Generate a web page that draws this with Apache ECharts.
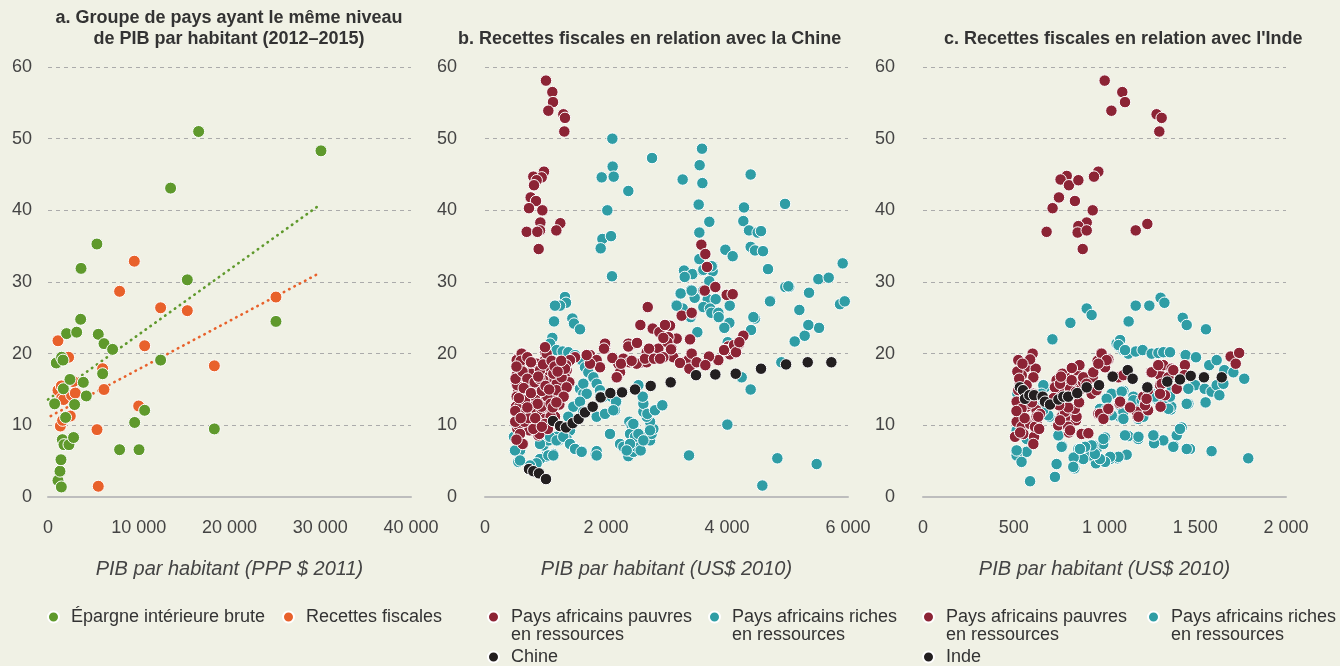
<!DOCTYPE html>
<html><head><meta charset="utf-8">
<script src="https://cdn.jsdelivr.net/npm/echarts@6/dist/echarts.min.js"></script>
<style>html,body{margin:0;padding:0;background:#f0f1e5}#c{width:1340px;height:666px}</style>
</head><body><div id="c"></div>
<script>
// ---------- Panel a ----------
const titleA = 'a. Groupe de pays ayant le même niveau\nde PIB par habitant (2012–2015)';
const titleB = 'b. Recettes fiscales en relation avec la Chine';
const titleC = "c. Recettes fiscales en relation avec l'Inde";
const axisNameA = 'PIB par habitant (PPP $ 2011)';
const axisNameBC = 'PIB par habitant (US$ 2010)';
const nameSavings = 'Épargne intérieure brute';
const nameTax = 'Recettes fiscales';
const namePoor = 'Pays africains pauvres\nen ressources';
const nameRich = 'Pays africains riches\nen ressources';
const nameChina = 'Chine';
const nameIndia = 'Inde';
const yTicks = [0, 10, 20, 30, 40, 50, 60];
const xTicksA = [0, 10000, 20000, 30000, 40000];
const xTicksB = [0, 2000, 4000, 6000];
const xTicksC = [0, 500, 1000, 1500, 2000];

const savingsA = [[730,13.0],[910,18.7],[1100,2.3],[1320,3.6],[1430,5.2],[1470,1.4],[1500,19.5],[1650,19.1],[1580,8.0],[1690,15.1],[1760,7.3],[1940,11.1],[2050,22.8],[2310,7.3],[2420,16.4],[2820,8.3],[2930,12.9],[3160,23.0],[3600,24.8],[3640,31.9],[3890,16.0],[4220,14.1],[5390,35.3],[5540,22.7],[6020,17.2],[6170,21.4],[7120,20.6],[7890,6.6],[9550,10.4],[10030,6.6],[10650,12.1],[12410,19.1],[13510,43.1],[15350,30.3],[16600,51.0],[18330,9.5],[25120,24.5],[30080,48.3]];
const taxA = [[1100,21.8],[1100,14.9],[1360,9.9],[1470,15.5],[1500,13.8],[1610,10.7],[1720,13.6],[2270,19.5],[2460,11.3],[2600,14.2],[2790,16.1],[3010,14.5],[5400,9.4],[5540,1.5],[6020,17.9],[6170,15.0],[7890,28.7],[9510,32.9],[9990,12.7],[10650,21.1],[12410,26.4],[15350,26.0],[18330,18.3],[25120,27.9]];
const trendSavingsA = [[0,13.6],[30000,40.8]];
const trendTaxA = [[300,11.3],[30000,31.3]];

// ---------- Panel b ----------
const poorB = [[1008,58.1],[1113,56.5],[1124,55.1],[1047,53.9],[1295,53.4],[1322,52.9],[1311,51.0],[975,45.4],[799,44.7],[937,44.6],[854,44.2],[810,43.5],[755,41.8],[843,41.3],[727,40.3],[948,40.0],[915,38.3],[1245,38.2],[689,37.0],[909,37.2],[865,37.0],[1179,37.2],[887,34.6],
[3576,35.2],[3642,33.9],[3670,32.1],[3632,28.8],[3813,29.3],[3995,28.2],[4094,28.3],[3251,25.3],[3422,25.6],[3058,23.9],[3168,22.1],[3384,21.9],[4270,22.5],[4199,21.4],[4105,20.9],[4022,21.0],[4138,20.1],[4050,19.9],[3984,20.5],[3405,20.0],[3477,18.8],[3653,18.6],[3857,19.1],[3703,19.6],[3234,18.8],[3388,17.9],[3113,19.5],
[1736,19.8],[1846,19.1],[1901,18.1],[1984,20.7],[1984,21.4],[2204,18.6],[2287,19.3],[2232,17.4],[2188,16.7],[2369,21.4],[2507,21.4],[2590,18.8],[2673,18.8],[2673,20.2],[2783,19.3],[2865,20.7],[2948,19.5],[3031,22.3],[3086,20.7],[3251,18.8],[3361,19.1],[2507,18.6],[2386,18.8],[1736,18.6],[1681,19.8],[1488,19.5],[1405,19.1],[1350,17.7],
[1967,20.7],[2105,19.4],[2177,16.7],[2248,18.6],[2369,21.0],[2424,19.0],[2513,21.5],[2568,24.0],[2690,26.5],[2645,19.3],[2711,20.7],[2772,23.5],[2794,19.3],[2893,19.3],[2882,23.0],[2975,24.0],[3014,21.6],[2948,22.2],[3075,20.6],[3223,18.7],[3416,25.7],[3389,22.0],[3416,20.0],[3378,17.9],[3499,18.8],[3807,29.3],[3642,18.4],[3951,20.5],[4116,21.2],[4149,20.2],[4204,21.6],[1030,19.2],[992,20.2],[623,20.0],[534,19.3],
[524,19.1],[606,20.0],[551,18.1],[524,17.0],[579,16.3],[513,15.8],[551,14.9],[606,14.4],[524,14.0],[568,13.3],[513,12.6],[606,12.1],[535,11.4],[634,11.9],[551,10.5],[634,10.7],[535,9.5],[606,9.3],[551,8.4],[634,7.4],[689,17.2],[716,15.8],[678,14.4],[744,13.0],[656,12.1],[771,10.7],[733,9.3],[854,9.1],[882,8.6],[799,18.1],[865,18.6],[937,17.7],[992,19.1],[1019,20.0],[992,20.9],[1030,18.1],[1047,16.7],[964,16.3],[909,15.3],[882,14.4],[964,13.7],[826,14.0],[799,12.6],[854,11.6],[937,12.1],[1019,12.6],[992,10.9],[1074,13.3],[1157,14.0],[1240,14.7],[1212,12.8],[1267,15.8],[1322,16.7],[1339,18.4],[1394,16.0],[1184,15.8],[1129,17.2],[1102,11.6],[1074,10.5],
[579,18.1],[551,16.7],[534,15.6],[568,12.6],[534,11.2],[551,10.0],[579,8.8],[623,7.4],[661,11.7],[650,10.5],[744,15.8],[771,17.2],[854,18.6],[909,17.7],[898,8.8],[854,10.7],[937,12.6],[1030,14.0],[1085,13.0],[1184,14.9],[1229,12.9],[1267,16.7],[1322,17.9],[1350,15.3],[1157,11.2],[1085,11.2],[992,10.2],[799,9.5],
[500,12.0],[505,16.5],[500,10.5],[590,19.0],[700,19.5],[760,18.8],[620,17.5],[700,16.5],[660,13.5],[720,11.0],[820,16.0],[870,13.0],[900,16.5],[960,18.5],[1100,19.0],[1150,18.2],[1200,17.5],[1260,19.0],[1300,14.0],
[560,13.8],[520,18.2],[590,11.0],[640,15.2],[700,12.5],[760,14.5],[830,11.0],[880,16.8],[940,14.8],[1000,15.5],[1060,15.0],[1120,12.5],[1180,13.2],[1040,9.5],[940,9.8],[520,8.0]];

const richB = [[2105,50.0],[2761,47.3],[3587,48.6],[2110,46.1],[1929,44.6],[2127,44.7],[3267,44.3],[3548,46.3],[3593,43.8],[4391,45.0],[2369,42.7],[3532,40.8],[2022,40.0],[4959,40.9],[4281,40.4],[3708,38.4],[4270,38.5],[4364,37.2],[3543,36.9],[4507,36.9],[4562,37.1],[1940,36.0],[2083,36.4],[1912,34.7],[4391,34.9],[4463,34.4],[4595,34.3],[3973,34.5],[4094,33.6],[3543,33.2],[3763,32.2],[4678,31.8],[5912,32.6],[3290,31.6],[3427,31.1],[3301,30.7],[3598,31.6],[3763,31.5],[2099,30.8],[5510,30.4],[5681,30.6],
[3609,31.7],[3747,32.2],[3708,30.1],[3405,28.9],[3229,28.4],[3163,26.8],[3267,26.3],[3399,25.1],[3466,27.8],[3609,28.8],[3681,27.6],[3813,27.6],[3609,26.5],[3719,26.3],[3741,25.7],[3857,25.7],[3863,25.1],[4045,26.7],[4039,24.3],[3956,23.6],[4463,24.9],[4397,23.3],[4716,27.4],[4964,29.3],[5030,29.3],[5356,28.5],[5196,26.1],[5356,24.0],[5521,23.6],[5284,22.5],[5119,21.7],[5868,26.9],[5946,27.3],[3510,23.0],[4012,21.6],[4898,18.8],[3168,26.7],[3234,28.4],[3416,28.8],[4436,25.1],[4711,27.3],[5014,29.4],[5344,24.0],
[1322,27.9],[1339,27.1],[1240,26.7],[1157,26.7],[1141,24.5],[1444,24.9],[1471,24.2],[1570,23.4],[1113,22.2],[1074,21.4],[1184,20.5],[1284,20.3],[1377,20.2],[1488,19.8],[1598,19.1],[1653,18.1],[1708,17.4],[1791,16.7],[1846,15.8],[1901,14.9],[1956,14.0],[2094,14.0],[2177,13.3],[2149,12.1],[1989,11.6],[1846,11.2],[2066,8.8],[1570,15.1],[1626,14.4],[1559,13.3],[1460,12.6],[1377,11.2],[1405,9.3],[1350,8.1],[1267,8.6],[1212,7.9],[1129,6.0],[1074,5.8],[992,5.6],[909,5.3],[854,4.7],[744,4.4],[964,7.2],[1047,7.9],[1184,8.4],[1432,7.2],[1515,6.7],[1598,6.4],[1829,6.0],[1846,6.4],[551,6.3],[579,6.5],[551,4.9],[479,8.4],[523,9.8],
[2232,7.4],[2287,7.0],[2369,5.7],[2397,6.5],[2452,6.3],[2507,7.0],[2573,6.5],[2386,10.5],[2424,10.0],[2463,10.1],[2397,8.8],[2480,8.4],[2601,8.4],[2728,7.9],[2755,8.8],[2783,9.5],[2728,10.5],[2673,11.2],[2618,11.9],[2618,13.0],[2607,14.0],[2535,15.6],[2684,11.6],[2810,12.1],[2931,12.8],[2166,13.3],
[3372,5.8],[4006,10.1],[4243,16.7],[4391,15.0],[4584,1.6],[4832,5.4],[5482,4.6],
[1625,15.8],[1681,14.4],[1570,13.3],[1625,11.9],[1901,14.0],[1984,11.6],[2121,12.1],[2452,10.2],[2535,8.8],[2397,7.4],[2342,6.5],[2618,7.9],[2728,9.3],[496,6.5],[579,5.1],[909,7.4],[1047,5.8],[1129,5.8],[1074,8.4],[1184,7.9],[1294,8.4],[1405,7.4],[1488,6.7],[1598,6.3],[1846,5.8]];

const chinaB = [[727,3.9],[799,3.6],[893,3.3],[1008,2.5],[1124,10.6],[1240,9.9],[1339,9.7],[1449,10.3],[1548,10.9],[1653,11.8],[1780,12.6],[1912,13.9],[2072,14.5],[2265,14.6],[2480,15.0],[2739,15.5],[3069,16.0],[3488,17.0],[3807,17.1],[4144,17.2],[4562,17.9],[4976,18.5],[5334,18.8],[5725,18.8]];

// ---------- Panel c ----------
const poorC = [[1001,58.1],[1098,56.5],[1113,55.1],[1038,53.9],[1287,53.4],[1315,52.9],[1302,51.0],[966,45.4],[942,44.7],[792,44.8],[758,44.3],[804,43.5],[856,44.2],[749,41.8],[837,41.3],[714,40.3],[935,40.0],[902,38.3],[1236,38.1],[681,37.0],[856,37.8],[852,36.9],[902,37.2],[1172,37.2],[880,34.6],
[525,19.1],[604,20.0],[566,18.1],[621,17.9],[544,17.0],[608,16.7],[534,15.8],[525,14.9],[562,14.0],[516,13.3],[571,12.6],[525,11.6],[626,12.1],[645,11.6],[516,10.5],[544,9.8],[590,10.2],[626,10.5],[507,8.4],[553,8.8],[612,8.4],[608,7.4],[626,11.2],[571,15.6],[608,14.4],
[768,17.2],[736,16.3],[791,16.0],[816,16.7],[843,17.7],[862,18.4],[837,15.6],[755,14.9],[727,15.3],[810,15.1],[791,14.0],[843,14.7],[872,15.1],[902,16.7],[929,14.4],[773,12.1],[764,11.2],[782,10.5],[745,10.0],[810,10.7],[843,10.7],[874,8.8],[911,8.9],[804,9.0],[837,11.7],[773,13.0],[800,9.8],
[883,16.0],[935,16.7],[962,19.0],[982,20.1],[1021,19.2],[1003,18.1],[966,11.6],[993,11.2],[1021,12.1],[1082,13.1],[1137,12.6],[1181,11.2],[1076,16.7],[1104,17.0],[1214,14.0],[1240,14.9],[1256,17.4],[1287,17.7],[1306,17.0],[1315,18.4],[1324,18.4],[1306,15.6],[1333,14.2],[1309,12.6],[1223,13.0],[1240,12.1],[1370,17.9],[1398,15.1],[1443,18.4],[1440,17.0],[1695,19.6],[1742,20.1],[1723,18.6],[1177,11.9],
[580,13.0],[617,9.8],[635,11.2],[543,12.3],[755,15.8],[819,16.3],[883,16.7],[938,17.4],[984,20.0],[1012,19.1],[966,18.6],[782,11.9],[755,10.7],[846,11.2],[810,9.3],[837,12.3],[975,11.6],[994,10.9],[1021,12.3],[1086,13.3],[1141,12.5],[1187,11.2],[1223,12.8],[1232,13.7],[1260,17.4],[1296,18.4],[1315,15.8],[1306,14.4],[1352,16.7],[1379,17.7],[956,14.9],[901,15.8],[535,9.0],[520,17.5],[590,19.2],
[530,16.5],[560,11.0],[600,13.2],[515,12.0],[548,18.6],[640,9.5],[720,13.8],[760,16.8],[800,12.5],[820,18.0],[860,13.2],[750,12.8]];

const richC = [[1309,27.8],[1330,27.1],[1247,26.7],[1172,26.7],[1133,24.5],[902,26.3],[929,25.4],[812,24.3],[1431,25.0],[1453,24.0],[1559,23.4],[713,22.0],
[1067,21.4],[1085,20.9],[1104,20.5],[1131,20.0],[1172,20.3],[1210,20.5],[1260,20.0],[1297,20.1],[1324,20.2],[1361,20.2],[1447,19.8],[1504,19.5],[1577,18.4],[1618,19.1],[1660,17.7],[1710,17.4],[1770,16.5],[1792,5.4],[1086,21.9],[1077,21.2],[1113,20.5],
[1548,16.7],[1499,15.6],[1462,15.1],[1552,15.1],[1590,14.7],[1618,15.6],[1655,15.8],[1633,14.2],[1557,13.2],[1462,13.0],[1365,12.2],[1425,9.7],[1398,8.6],[1471,6.7],[1590,6.4],[1383,7.1],[1324,7.9],[1273,7.5],[1273,8.6],[1186,8.1],[1131,8.5],[1113,8.6],[1122,5.9],[1072,5.4],[1030,5.3],[993,5.1],[953,4.7],[920,5.8],[957,6.7],[1003,8.3],[993,7.4],[938,7.2],[883,5.3],[856,6.7],[830,5.5],[834,4.0],[768,7.1],[736,4.6],[727,2.8],[590,2.2],[544,5.0],[571,6.3],[512,6.3],[516,5.8],
[1012,13.8],[1039,14.4],[1104,14.8],[1085,12.8],[1159,14.0],[1177,12.6],[1186,10.9],[1085,11.2],[1104,11.9],[975,12.3],[837,17.2],[825,16.3],[672,15.3],[663,15.6],[696,11.2],[635,12.6],[608,13.0],[590,13.5],[544,14.0],[520,14.4],[516,9.3],[544,8.8],[571,8.1],
[1287,13.7],[1315,13.0],[1227,12.1],[1214,11.2],[1368,12.6],[1320,13.3],[1251,14.7],
[1453,13.0],[1352,12.3],[1416,9.5],[1379,7.0],[1453,6.7],[1269,8.6],[1187,8.4],[1077,5.6],[1031,5.6],[1003,4.9],[975,5.3],[947,6.0],[929,7.2],[994,8.1],[893,7.0],[865,6.7],[828,4.2],[764,7.0],[543,4.9],[516,6.5],[1095,14.7],[1012,13.7],[1040,11.4],[1012,12.3],[1104,10.9],[1159,13.5],[690,11.4],[662,12.1],[653,14.4],[746,8.6],[1205,13.5],[1278,14.0],[1370,14.9],[1361,14.0]];

const indiaC = [[534,15.3],[551,14.9],[562,13.7],[586,14.2],[612,14.2],[659,14.0],[672,13.3],[700,12.9],[746,13.6],[773,14.0],[800,14.0],[850,14.5],[902,15.3],[970,15.6],[1045,16.8],[1128,17.7],[1155,16.5],[1236,15.3],[1346,16.1],[1416,16.4],[1475,16.9],[1548,16.7],[1646,16.7]];

// ---------- styles ----------
const C_GREEN = '#5f992c', C_ORANGE = '#e8612b', C_RED = '#8c2435', C_TEAL = '#2f9da5', C_BLACK = '#231f20';
const FONT = '"Liberation Sans", Arial, Helvetica, sans-serif';

const fmt = v => String(v).replace(/\B(?=(\d{3})+(?!\d))/g, ' ');

const grids = [
  {left: 48, width: 363, top: 67, height: 430},
  {left: 485, width: 363, top: 67, height: 430},
  {left: 923, width: 363, top: 67, height: 430}
];
const xSpec = [
  {ticks: xTicksA, name: axisNameA},
  {ticks: xTicksB, name: axisNameBC},
  {ticks: xTicksC, name: axisNameBC}
];
const xAxes = xSpec.map((s, i) => ({
  gridIndex: i, type: 'value',
  min: s.ticks[0], max: s.ticks[s.ticks.length - 1], interval: s.ticks[1] - s.ticks[0],
  name: s.name, nameLocation: 'middle', nameGap: 62,
  nameTextStyle: {fontFamily: FONT, fontStyle: 'italic', fontSize: 20, color: '#444'},
  axisLine: {show: true, onZero: false, lineStyle: {color: '#bdbdbd', width: 2}},
  axisTick: {show: false}, splitLine: {show: false},
  axisLabel: {fontFamily: FONT, fontSize: 18, color: '#444', margin: 22, formatter: fmt, showMinLabel: true, showMaxLabel: true}
}));
const yAxes = [16, 28, 28].map((m, i) => ({
  gridIndex: i, type: 'value', min: yTicks[0], max: yTicks[yTicks.length - 1], interval: yTicks[1] - yTicks[0],
  axisLine: {show: false}, axisTick: {show: false},
  axisLabel: {fontFamily: FONT, fontSize: 18, color: '#444', margin: m},
  splitLine: {show: true, lineStyle: {color: '#ababab', type: [4, 4], width: 1}}
}));

function scatter(name, data, color, idx, size, z) {
  return {type: 'scatter', name, data, xAxisIndex: idx, yAxisIndex: idx, symbol: 'circle', symbolSize: size, z: z,
    itemStyle: {color, borderColor: '#ffffff', borderWidth: 1, opacity: 1}, emphasis: {disabled: true}, silent: true};
}
function trend(name, data, color) {
  return {type: 'line', name, data, xAxisIndex: 0, yAxisIndex: 0, showSymbol: false, symbol: 'none', z: 1, silent: true,
    lineStyle: {color, width: 2.6, type: [0.5, 5.5], cap: 'round'}, legendHoverLink: false};
}

const legTxt = {fontFamily: FONT, fontSize: 18, color: '#333', lineHeight: 18};
function leg(name, left, top, multi) {
  return {data: [{name, icon: 'circle'}], left, top, padding: 0, itemWidth: 11, itemHeight: 11, selectedMode: false,
    formatter: multi ? (n => '\n' + n) : (n => n),
    textStyle: Object.assign({}, legTxt, {padding: [0, 0, 0, 7]})};
}

const option = {
  backgroundColor: '#f0f1e5',
  animation: false,
  textStyle: {fontFamily: FONT},
  title: [
    {text: titleA, left: 229, top: 7.5, textAlign: 'center', padding: 0, textStyle: {fontFamily: FONT, fontSize: 18, fontWeight: 'bold', color: '#333', lineHeight: 21}},
    {text: titleB, left: 458, top: 30, padding: 0, textStyle: {fontFamily: FONT, fontSize: 18, fontWeight: 'bold', color: '#333'}},
    {text: titleC, left: 944, top: 30, padding: 0, textStyle: {fontFamily: FONT, fontSize: 18, fontWeight: 'bold', color: '#333'}}
  ],
  grid: grids,
  xAxis: xAxes,
  yAxis: yAxes,
  legend: [
    leg(nameSavings, 47, 608, false),
    leg(nameTax, 282, 608, false),
    leg(namePoor, 487, 590, true),
    leg(nameRich, 708, 590, true),
    leg(nameChina, 487, 648, false),
    leg(namePoor, 922, 590, true),
    leg(nameRich, 1147, 590, true),
    leg(nameIndia, 922, 648, false)
  ],
  series: [
    trend('trendSavings', trendSavingsA, C_GREEN),
    trend('trendTax', trendTaxA, C_ORANGE),
    scatter(nameTax, taxA, C_ORANGE, 0, 12, 3),
    scatter(nameSavings, savingsA, C_GREEN, 0, 12, 4),
    scatter(nameRich, richB, C_TEAL, 1, 11.5, 3),
    scatter(namePoor, poorB, C_RED, 1, 11.5, 4),
    scatter(nameChina, chinaB, C_BLACK, 1, 11.5, 5),
    scatter(nameRich, richC, C_TEAL, 2, 11.5, 3),
    scatter(namePoor, poorC, C_RED, 2, 11.5, 4),
    scatter(nameIndia, indiaC, C_BLACK, 2, 11.5, 5)
  ]
};
const chart = echarts.init(document.getElementById('c'), null, {renderer: 'canvas'});
chart.setOption(option);
</script>
</body></html>
